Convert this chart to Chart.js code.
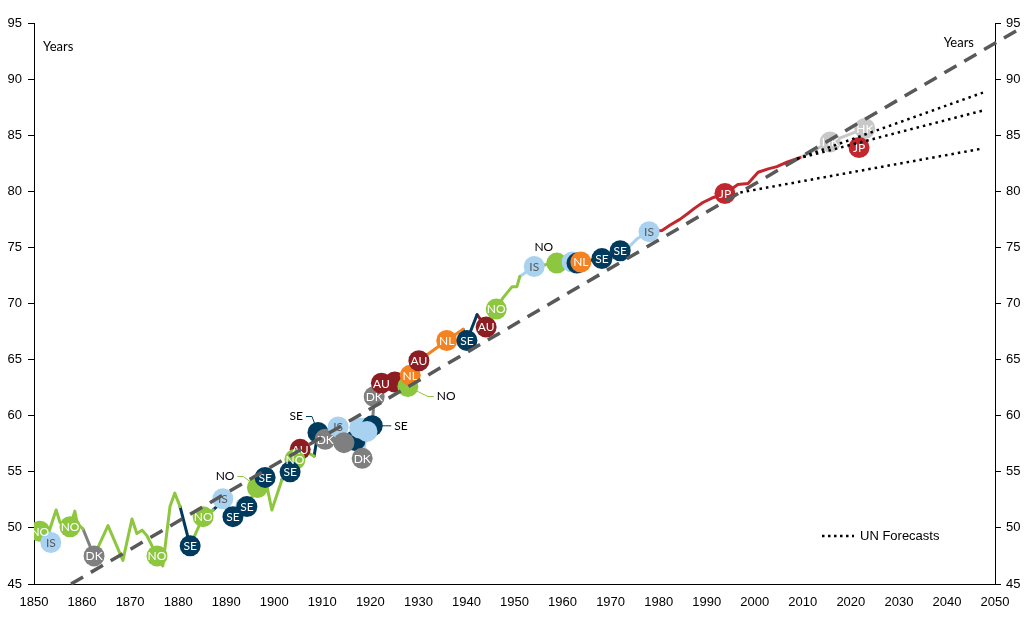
<!DOCTYPE html>
<html lang="en">
<head>
    <meta charset="UTF-8">
    <title>Record female life expectancy</title>
    <script src="https://cdn.jsdelivr.net/npm/chart.js"></script>
    <style>
        body {
            margin: 0;
            padding: 0;
            background-color: #ffffff;
        }
        .chart-container {
            width: 1024px;
            height: 633px;
        }
    </style>
</head>
<body>
    <div class="chart-container">
        <canvas id="lifeChart"></canvas>
    </div>

    <script>
        // best-practice line: year, value and the country holding the record
        const pathYears = [1851.2, 1853.0, 1854.6, 1855.4, 1857.5, 1858.5, 1859.0, 1860.2, 1862.5, 1865.4,
            1868.5, 1870.4, 1871.4, 1872.5, 1873.5, 1875.6, 1876.8, 1878.3, 1879.3, 1880.4,
            1882.5, 1885.2, 1887.3, 1888.3, 1889.3, 1891.4, 1892.5, 1894.3, 1896.5, 1898.1,
            1899.5, 1901.6, 1903.3, 1904.3, 1905.4, 1906.5, 1908.3, 1909.1, 1910.6, 1912.0,
            1913.3, 1914.5, 1916.8, 1917.8, 1918.3, 1919.3, 1920.4, 1920.8, 1922.3, 1925.1,
            1927.8, 1928.3, 1930.1, 1935.9, 1939.3, 1940.1, 1942.2, 1944.1, 1946.2, 1947.6,
            1949.5, 1950.5, 1951.1, 1954.1, 1958.8, 1962.0, 1963.0, 1963.8, 1968.2, 1972.0,
            1973.5, 1975.6, 1978.0, 1980.7, 1982.4, 1984.4, 1986.0, 1987.5, 1989.2, 1991.1,
            1993.8, 1996.5, 1998.6, 2000.7, 2002.8, 2004.6, 2006.7, 2009.4, 2015.7, 2022.9];
        const pathValues = [49.7, 49.5, 51.6, 50.5, 50.1, 51.5, 50.4, 49.9, 47.5, 50.2,
            47.1, 50.8, 49.5, 49.8, 49.3, 47.5, 46.6, 51.9, 53.1, 51.9,
            48.4, 51.0, 51.6, 52.0, 52.6, 51.0, 52.3, 51.9, 53.6, 54.5,
            51.6, 54.3, 55.0, 56.1, 57.0, 56.8, 56.4, 58.5, 57.9, 57.6,
            59.0, 57.6, 57.8, 58.9, 56.2, 58.6, 59.1, 61.7, 62.9, 63.0,
            62.6, 63.6, 64.9, 66.7, 67.7, 66.7, 69.0, 67.9, 69.5, 70.5,
            71.5, 71.5, 72.4, 73.3, 73.6, 73.7, 73.6, 73.7, 74.0, 74.7,
            74.9, 75.8, 76.4, 76.5, 77.0, 77.5, 78.0, 78.5, 79.0, 79.4,
            79.8, 80.6, 80.7, 81.7, 82.0, 82.2, 82.6, 83.0, 84.4, 85.6];
        const pathLeader = ['NO', 'NO', 'NO', 'NO', 'NO', 'NO', 'NO', 'NO', 'DK', 'NO',
            'NO', 'NO', 'NO', 'NO', 'NO', 'NO', 'NO', 'NO', 'NO', 'NO',
            'SE', 'NO', 'NO', 'SE', 'IS', 'SE', 'IS', 'SE', 'NO', 'SE',
            'NO', 'NO', 'SE', 'NO', 'AU', 'NO', 'NO', 'SE', 'DK', 'DK',
            'IS', 'DK', 'SE', 'IS', 'IS', 'IS', 'SE', 'DK', 'AU', 'AU',
            'NO', 'NL', 'AU', 'NL', 'NL', 'SE', 'SE', 'AU', 'NO', 'NO',
            'NO', 'NO', 'NO', 'IS', 'NO', 'IS', 'SE', 'NL', 'SE', 'SE',
            'IS', 'IS', 'IS', 'JP', 'JP', 'JP', 'JP', 'JP', 'JP', 'JP',
            'JP', 'JP', 'JP', 'JP', 'JP', 'JP', 'JP', 'JP', 'HK', 'HK'];

        // labelled circles (listed in drawing order, later ones on top)
        const markerYears = [1851.2, 1853.5, 1857.5, 1862.5, 1875.6, 1882.5, 1885.2, 1889.3, 1891.4, 1894.3,
            1896.5, 1898.1, 1905.4, 1904.3, 1903.3, 1909.1, 1910.6, 1913.3, 1916.8, 1914.5,
            1917.8, 1918.3, 1920.4, 1919.3, 1920.8, 1922.3, 1925.1, 1927.8, 1928.3, 1930.1,
            1935.9, 1940.1, 1944.1, 1946.2, 1954.1, 1958.8, 1962.0, 1963.0, 1963.8, 1968.2,
            1972.0, 1978.0, 1993.8, 2015.7, 2022.9, 2021.7];
        const markerValues = [49.7, 48.7, 50.1, 47.5, 47.5, 48.4, 51.0, 52.6, 51.0, 51.9,
            53.6, 54.5, 57.0, 56.1, 55.0, 58.5, 57.9, 59.0, 57.8, 57.6,
            58.9, 56.2, 59.1, 58.6, 61.7, 62.9, 63.0, 62.6, 63.6, 64.9,
            66.7, 66.7, 67.9, 69.5, 73.3, 73.6, 73.7, 73.6, 73.7, 74.0,
            74.7, 76.4, 79.8, 84.4, 85.6, 83.9];
        const markerCountry = ['NO', 'IS', 'NO', 'DK', 'NO', 'SE', 'NO', 'IS', 'SE', 'SE',
            'NO', 'SE', 'AU', 'NO', 'SE', 'SE', 'DK', 'IS', 'SE', 'DK',
            'IS', 'DK', 'SE', 'IS', 'DK', 'AU', 'AU', 'NO', 'NL', 'AU',
            'NL', 'SE', 'AU', 'NO', 'IS', 'NO', 'IS', 'SE', 'NL', 'SE',
            'SE', 'IS', 'JP', 'HK', 'HK', 'JP'];
        const markerShowText = [1, 1, 1, 1, 1, 1, 1, 1, 1, 1,
            0, 1, 1, 1, 1, 0, 1, 1, 0, 0,
            0, 1, 0, 0, 1, 1, 0, 0, 1, 1,
            1, 1, 1, 1, 1, 0, 0, 0, 1, 1,
            1, 1, 1, 1, 1, 1];

        // linear trend and UN forecasts
        const trendYears = [1857.7, 2056];
        const trendValues = [45, 94.7];
        const fcLowYears = [1997.0, 2047.3];
        const fcLowValues = [79.9, 83.8];
        const fcMidYears = [2008.8, 2047.5];
        const fcMidValues = [82.9, 87.2];
        const fcHighYears = [2008.8, 2047.5];
        const fcHighValues = [82.9, 88.8];

        const yTicks = [45, 50, 55, 60, 65, 70, 75, 80, 85, 90, 95];

        const countryColors = {
            NO: '#8DC63F',
            IS: '#A9D2F1',
            DK: '#7F7F7F',
            SE: '#003A5D',
            AU: '#8C1D22',
            NL: '#F58220',
            JP: '#C1272D',
            HK: '#C8C8C8'
        };
        const textColors = { IS: '#595959' };

        // outside labels with leader lines (pixel offsets from their circle)
        const callouts = [
            { marker: 15, text: 'SE', dx: -15, dy: -16, align: 'right', leader: true },
            { marker: 22, text: 'SE', dx: 22, dy: 0, align: 'left', leader: true },
            { marker: 10, text: 'NO', dx: -23, dy: -11, align: 'right', leader: true },
            { marker: 27, text: 'NO', dx: 29, dy: 10, align: 'left', leader: true },
            { marker: 35, text: 'NO', dx: -13, dy: -16, align: 'center', leader: false }
        ];

        function toPoints(xs, ys) {
            return xs.map((x, i) => ({ x: x, y: ys[i] }));
        }

        // split the path into one dataset per run of the same leader
        function buildSegments() {
            const sets = [];
            let current = null;
            for (let i = 1; i < pathYears.length; i++) {
                const c = pathLeader[i];
                if (!current || current.country !== c) {
                    current = { country: c, data: [{ x: pathYears[i - 1], y: pathValues[i - 1] }] };
                    sets.push(current);
                }
                current.data.push({ x: pathYears[i], y: pathValues[i] });
            }
            return sets.map(s => ({
                type: 'line',
                data: s.data,
                borderColor: countryColors[s.country],
                borderWidth: 3,
                borderJoinStyle: 'round',
                borderCapStyle: 'round',
                pointRadius: 0,
                tension: 0,
                order: 3
            }));
        }

        const markerDataset = {
            type: 'scatter',
            data: toPoints(markerYears, markerValues),
            backgroundColor: markerCountry.map(c => countryColors[c]),
            borderWidth: 0,
            pointRadius: 10.5,
            pointHoverRadius: 10.5,
            order: 2
        };

        function dotted(xs, ys) {
            return {
                type: 'line',
                data: toPoints(xs, ys),
                borderColor: '#000000',
                borderWidth: 2.5,
                borderDash: [2.5, 4],
                pointRadius: 0,
                tension: 0,
                order: 0
            };
        }

        const labelPlugin = {
            id: 'labels',
            beforeDatasetsDraw(chart) {
                const ctx = chart.ctx;
                const meta = chart.getDatasetMeta(markerIndex);
                ctx.save();
                ctx.lineWidth = 1;
                callouts.forEach(c => {
                    if (!c.leader) return;
                    const p = meta.data[c.marker];
                    const ax = p.x + c.dx + (c.align === 'right' ? 3 : -3);
                    const ay = p.y + c.dy;
                    const bx = ax + (c.align === 'right' ? 6 : -6);
                    ctx.strokeStyle = countryColors[markerCountry[c.marker]];
                    ctx.beginPath();
                    ctx.moveTo(ax, ay);
                    ctx.lineTo(bx, ay);
                    ctx.lineTo(p.x, p.y);
                    ctx.stroke();
                });
                ctx.restore();
            },
            afterDatasetDraw(chart, args) {
                if (args.index !== markerIndex) return;
                const ctx = chart.ctx;
                ctx.save();
                ctx.font = '12px Lato';
                ctx.textAlign = 'center';
                ctx.textBaseline = 'middle';
                args.meta.data.forEach((p, i) => {
                    if (!markerShowText[i]) return;
                    const c = markerCountry[i];
                    ctx.fillStyle = textColors[c] || '#ffffff';
                    ctx.fillText(c, p.x, p.y + 0.5);
                });
                ctx.restore();
            },
            afterDraw(chart) {
                const ctx = chart.ctx;
                const meta = chart.getDatasetMeta(markerIndex);
                const area = chart.chartArea;
                ctx.save();
                ctx.fillStyle = '#000000';
                ctx.textBaseline = 'middle';
                ctx.font = '12px Lato';
                callouts.forEach(c => {
                    const p = meta.data[c.marker];
                    ctx.textAlign = c.align;
                    ctx.fillText(c.text, p.x + c.dx, p.y + c.dy);
                });
                ctx.font = '13px Lato';
                ctx.textAlign = 'left';
                ctx.fillText('Years', area.left + 9, area.top + 24);
                ctx.textAlign = 'right';
                ctx.fillText('Years', area.right - 21, area.top + 20);

                // legend for the forecast lines
                const ly = area.bottom - 48;
                const lx = area.right - 173;
                ctx.strokeStyle = '#000000';
                ctx.lineWidth = 2.5;
                ctx.setLineDash([2.5, 3.5]);
                ctx.beginPath();
                ctx.moveTo(lx, ly);
                ctx.lineTo(lx + 32, ly);
                ctx.stroke();
                ctx.setLineDash([]);
                ctx.font = '13px "Liberation Sans", Arial, sans-serif';
                ctx.textAlign = 'left';
                ctx.fillText('UN Forecasts', lx + 38, ly);
                ctx.restore();
            }
        };

        const segmentSets = buildSegments();
        const markerIndex = segmentSets.length;
        const tickFont = { family: '"Liberation Sans", Arial, sans-serif', size: 13 };

        const yAxis = (position, fitWidth, pad) => ({
            type: 'linear',
            position: position,
            min: 45,
            max: 95,
            afterBuildTicks: scale => { scale.ticks = yTicks.map(v => ({ value: v })); },
            afterFit: scale => { scale.width = fitWidth; },
            ticks: { color: '#000000', font: tickFont, padding: pad },
            grid: { display: true, drawOnChartArea: false, drawTicks: true, tickLength: 6, color: '#000000' },
            border: { display: true, color: '#000000', width: 1 }
        });

        new Chart(document.getElementById('lifeChart'), {
            data: {
                datasets: [
                    ...segmentSets,
                    markerDataset,
                    {
                        type: 'line',
                        data: toPoints(trendYears, trendValues),
                        borderColor: '#595959',
                        borderWidth: 3.5,
                        borderDash: [14, 9],
                        pointRadius: 0,
                        tension: 0,
                        clip: false,
                        order: 1
                    },
                    dotted(fcLowYears, fcLowValues),
                    dotted(fcMidYears, fcMidValues),
                    dotted(fcHighYears, fcHighValues)
                ]
            },
            options: {
                responsive: true,
                maintainAspectRatio: false,
                animation: false,
                layout: { padding: { top: 23, left: 0, right: 0, bottom: 0 } },
                plugins: {
                    legend: { display: false },
                    tooltip: { enabled: false }
                },
                scales: {
                    x: {
                        type: 'linear',
                        min: 1850,
                        max: 2050,
                        afterFit: scale => { scale.height = 49; },
                        ticks: { stepSize: 10, color: '#000000', font: tickFont, padding: 11, maxRotation: 0,
                            callback: v => String(v) },
                        grid: { display: false, drawTicks: false },
                        border: { display: true, color: '#000000', width: 1 }
                    },
                    y: yAxis('left', 34, 6),
                    y2: yAxis('right', 29, 5)
                }
            },
            plugins: [labelPlugin]
        });
    </script>
</body>
</html>
